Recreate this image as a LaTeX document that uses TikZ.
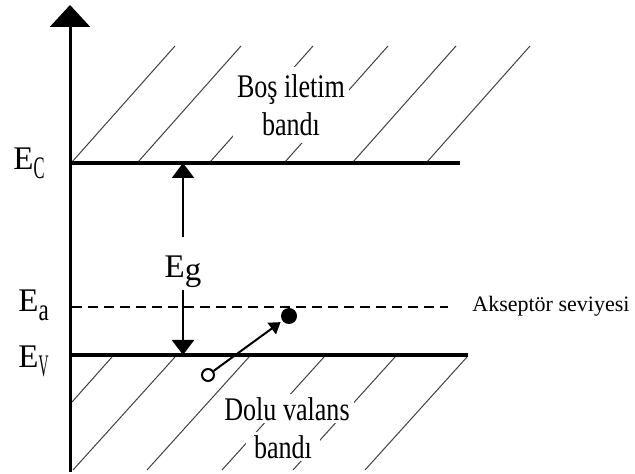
\documentclass[tikz,border=0pt]{standalone}
\usepackage{fontspec}
\setmainfont{Liberation Serif}
\usetikzlibrary{arrows.meta}
\newcommand{\lvsub}[2][0.5]{\raisebox{-4.5pt}{\scalebox{#1}[0.95]{#2}}}
\newcommand{\narrow}[1]{\scalebox{0.79}[1]{#1}}

\begin{document}
\begin{tikzpicture}[x=0.5pt, y=-0.5pt,
	lvl/.style={font=\fontsize{16.5}{19}\selectfont, inner sep=0pt},
	band/.style={font=\fontsize{16.5}{19}\selectfont, fill=white, inner xsep=2pt, inner ysep=3.5pt},
	hatch/.style={black!75, line width=0.5pt},
	level/.style={line width=1.6pt},
	gap/.style={line width=1.2pt, -{Triangle[length=7.5pt, width=11pt]}},
	hole/.style={circle, draw, line width=1pt, minimum size=6pt, inner sep=0pt},
	elec/.style={circle, fill, minimum size=8pt, inner sep=0pt}]
	\useasboundingbox (0,0) rectangle (635,474);
	% hatching of the two bands
	\foreach \x in {72,138,210,285,353,427}
		\draw[hatch] (\x,162) -- ++(103,-116);
	\foreach \x in {73,147,222,293,365}
		\draw[hatch] (\x,470) -- ++(102,-113);
	\draw[hatch] (72,402) -- (112,357);
	% axis and levels
	\coordinate (o) at (70,472);
	\coordinate (top) at (70,5);
	\coordinate (ec) at (70,163);
	\coordinate (ecend) at (460,163);
	\coordinate (ev) at (70,355);
	\coordinate (evend) at (468,355);
	\coordinate (ea) at (72,307);
	\coordinate (eaend) at (448,307);
	\draw[line width=1.5pt, -{Triangle[length=11pt, width=20pt]}] (o) -- (top);
	\draw[level] (ec) -- (ecend);
	\draw[level] (ev) -- (evend);
	\draw[line width=1pt, dash pattern=on 5pt off 3pt] (ea) -- (eaend);
	\node[lvl, anchor=base west] (ECl) at (13,170) {E\lvsub{C}};
	\node[lvl, anchor=base west] (Eal) at (18,312) {E\lvsub[0.7]{a}};
	\node[lvl, anchor=base west] (EVl) at (18,368) {E\lvsub[0.42]{V}};
	\node[font=\fontsize{11}{13}\selectfont, anchor=base west, inner sep=0pt] (acc) at (472,312) {Akseptör seviyesi};
	% band gap
	\node[lvl, anchor=base, text height=20.5pt, text depth=6pt] (Eg) at (183,278) {E\raisebox{-1.5pt}{g}};
	\draw[gap] (Eg.north) -- (Eg.north |- ec);
	\draw[gap] (Eg.south) -- (Eg.south |- ev);
	% band names
	\node[band, align=center] (cb) at (291,105) {\narrow{Boş iletim}\\\narrow{bandı}};
	\node[band, anchor=base, inner ysep=1.5pt] (vb) at (287,420) {\narrow{Dolu valans}};
	\node[band, anchor=base, inner ysep=1.5pt, inner xsep=4pt] (vbb) at (283,458) {\narrow{bandı}};
	% hole and electron
	\node[hole] (h) at (208,375) {};
	\node[elec] (el) at (289,316) {};
	\draw[line width=1pt, -{Triangle[length=5.5pt, width=7pt]}, shorten >=1pt] (h) -- (el);
\end{tikzpicture}
\end{document}
